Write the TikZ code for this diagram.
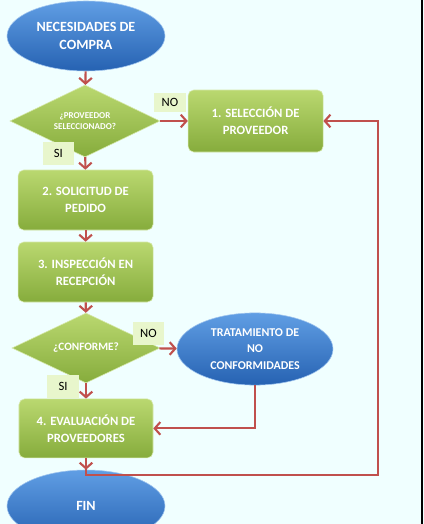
\documentclass[tikz,border=0pt]{standalone}
\usepackage{fontspec}
\setmainfont{Carlito}
\usepackage{xcolor}
\usepackage{tikz}
\usetikzlibrary{shapes.geometric, arrows.meta}
\definecolor{bgcol}{RGB}{240,255,255}
\definecolor{gtop}{RGB}{186,216,112}
\definecolor{gbot}{RGB}{134,172,60}
\definecolor{btop}{RGB}{96,158,228}
\definecolor{bbot}{RGB}{38,98,178}
\definecolor{lblgreen}{RGB}{232,246,204}
\definecolor{arrred}{RGB}{192,80,77}

\begin{document}
\begin{tikzpicture}[
  term/.style={ellipse,draw=btop!60!white,top color=btop,bottom color=bbot,
               minimum width=3.95cm,minimum height=1.75cm,align=center,
               font=\fontsize{10}{13}\selectfont\bfseries,text=white},
  act/.style={rectangle,rounded corners=4pt,draw=gtop!60!white,top color=gtop,
              bottom color=gbot,minimum width=3.375cm,minimum height=1.5cm,
              align=center,font=\fontsize{9}{12}\selectfont\bfseries,text=white},
  dec/.style={diamond,aspect=2,draw=gtop!60!white,top color=gtop,bottom color=gbot,
              minimum width=3.75cm,minimum height=1.8cm,inner sep=1pt,
              align=center,text=white},
  lbl/.style={rectangle,fill=lblgreen,minimum width=0.78cm,minimum height=0.56cm,
              inner sep=1pt,font=\fontsize{9}{10}\selectfont},
  arr/.style={draw=arrred,line width=1.5pt,-{Straight Barb[length=4pt,width=9pt]}}
]
\clip (0,0) rectangle (10.6,-13.1);
\fill[bgcol] (0,0) rectangle (10.6,-13.1);
\draw[line width=1.1pt] (10.55,0)--(10.55,-13.1);

\node[term] (need) at (2.15,-0.9) {NECESIDADES DE\\COMPRA};
\node[dec,font=\fontsize{6.4}{7.5}\selectfont\bfseries] (chk) at (2.125,-3.025) {¿PROVEEDOR\\SELECCIONADO?};
\node[act,minimum height=1.55cm] (sel) at (6.39,-3.025) {1. SELECCIÓN DE\\PROVEEDOR};
\node[act] (req)  at (2.14,-5.0) {2. SOLICITUD DE\\PEDIDO};
\node[act] (insp) at (2.14,-6.8) {3. INSPECCIÓN EN\\RECEPCIÓN};
\node[dec,minimum width=3.7cm,minimum height=1.75cm,
      font=\fontsize{8}{10}\selectfont\bfseries] (conf) at (2.15,-8.7) {¿CONFORME?};
\node[term,minimum width=3.9cm,minimum height=1.8cm,
       font=\fontsize{8.5}{12}\selectfont\bfseries] (nc) at (6.375,-8.725) {TRATAMIENTO DE\\NO\\CONFORMIDADES};
\node[act,minimum width=3.35cm,minimum height=1.475cm] (eval) at (2.15,-10.71) {4. EVALUACIÓN DE\\PROVEEDORES};
\node[term,minimum height=1.8cm] (fin) at (2.15,-12.65) {FIN};
\coordinate (back) at (9.45,-11.875);

\draw[arr] (need)--(chk);
\draw[arr] (chk)--(sel);
\draw[arr] (chk)--(req);
\draw[arr] (req)--(insp);
\draw[arr] (insp)--(conf);
\draw[arr] (conf)--(nc);
\draw[arr] (conf)--(eval);
\draw[arr] (nc.south)|-(eval.east);
\draw[arr] (eval)--(fin);
\draw[arr] (eval.south)|-(back)|-(sel.east);

\node[lbl,minimum width=0.8cm,minimum height=0.475cm] (no1) at (4.25,-2.56) {NO};
\node[lbl] (si1) at (1.46,-3.84) {SI};
\node[lbl] (no2) at (3.71,-8.34) {NO};
\node[lbl] (si2) at (1.575,-9.66) {SI};
\end{tikzpicture}
\end{document}
